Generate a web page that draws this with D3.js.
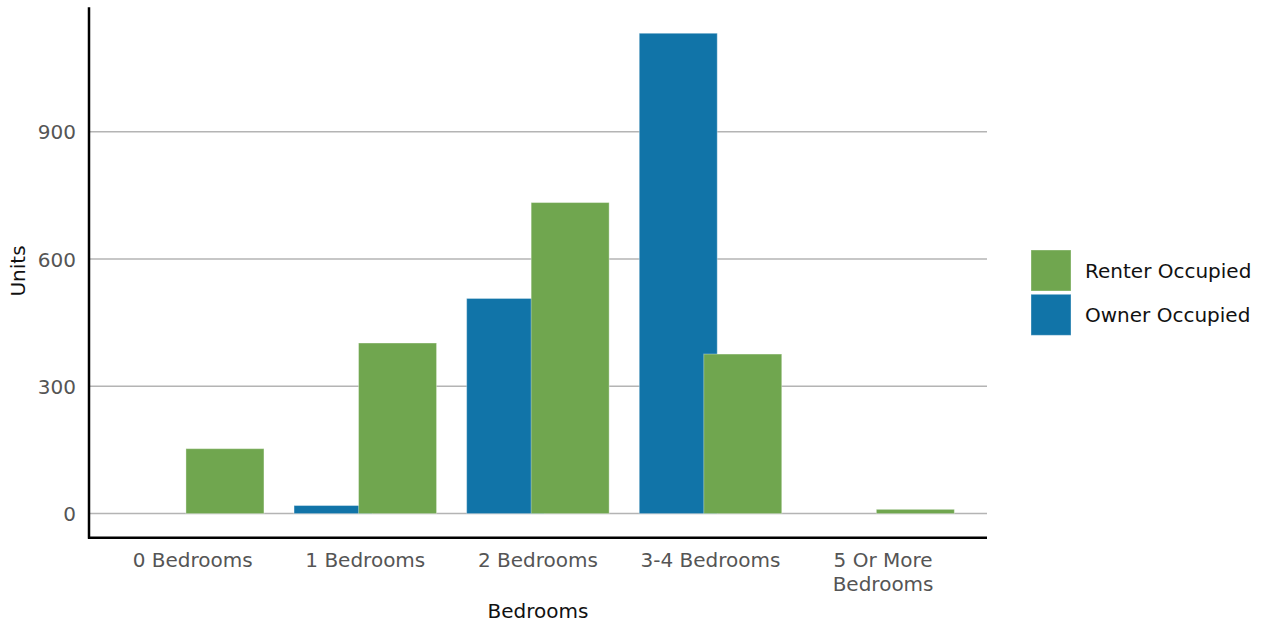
<!DOCTYPE html>
<html>
<head>
<meta charset="utf-8">
<script src="https://cdn.jsdelivr.net/npm/d3@7"></script>
<style>
  html, body { margin: 0; padding: 0; background: #fff; }
  svg { display: block; font-family: "DejaVu Sans", sans-serif; }
</style>
</head>
<body>
<svg id="chart" width="1270" height="624"></svg>
<script>
const categories = ["0 Bedrooms", "1 Bedrooms", "2 Bedrooms", "3-4 Bedrooms", "5 Or More Bedrooms"];
const categoryLines = [["0 Bedrooms"], ["1 Bedrooms"], ["2 Bedrooms"], ["3-4 Bedrooms"], ["5 Or More", "Bedrooms"]];
const seriesNames = ["Owner Occupied", "Renter Occupied"];
const ownerValues = [0, 19, 507, 1132, 0];
const renterValues = [153, 402, 733, 376, 10];
const yTicks = [0, 300, 600, 900];
const legendOrder = ["Renter Occupied", "Owner Occupied"];
const colors = { "Owner Occupied": "#1174a8", "Renter Occupied": "#70a64f" };

const svg = d3.select("#chart");

const x = d3.scaleBand().domain(categories).range([106.4, 969.4]).paddingInner(0).paddingOuter(0);
const y = d3.scaleLinear().domain([0, 900]).range([513.6, 131.7]);

const plotLeft = 89, plotRight = 987, axisBottom = 537.7, axisTop = 7.3;
const fs = 20;

// gridlines
svg.append("g")
  .selectAll("line")
  .data(yTicks)
  .join("line")
  .attr("x1", plotLeft).attr("x2", plotRight)
  .attr("y1", d => y(d)).attr("y2", d => y(d))
  .attr("stroke", "#b4b4b4").attr("stroke-width", 1.5);

// bars
const barW = 78, offset = 64.5;
const sub = d3.scaleOrdinal().domain(seriesNames).range([-71.25, -71.25 + offset]);
const series = [
  { name: "Owner Occupied", values: ownerValues },
  { name: "Renter Occupied", values: renterValues }
];
series.forEach(s => {
  svg.append("g")
    .selectAll("rect")
    .data(categories.map((c, i) => ({ c, v: s.values[i] })).filter(d => d.v > 0))
    .join("rect")
    .attr("x", d => x(d.c) + x.bandwidth() / 2 + sub(s.name))
    .attr("width", barW)
    .attr("y", d => y(d.v))
    .attr("height", d => y(0) - y(d.v))
    .attr("fill", colors[s.name])
    .attr("stroke", "rgba(255,255,255,0.35)")
    .attr("stroke-width", 1);
});

// axes lines
svg.append("line").attr("x1", plotLeft).attr("x2", plotLeft).attr("y1", axisTop).attr("y2", axisBottom + 1)
  .attr("stroke", "#000").attr("stroke-width", 2.5);
svg.append("line").attr("x1", plotLeft - 1).attr("x2", plotRight).attr("y1", axisBottom).attr("y2", axisBottom)
  .attr("stroke", "#000").attr("stroke-width", 2.5);

// y tick labels
svg.append("g")
  .selectAll("text")
  .data(yTicks)
  .join("text")
  .attr("x", 76).attr("y", d => y(d) + 7.5)
  .attr("text-anchor", "end")
  .attr("font-size", fs)
  .attr("fill", "#555")
  .text(d => d3.format("d")(d));

// x tick labels (wrapped as separate lines)
const xLabelData = [];
categories.forEach((c, i) => {
  categoryLines[i].forEach((ln, j) => xLabelData.push({ c, ln, j }));
});
svg.append("g")
  .selectAll("text")
  .data(xLabelData)
  .join("text")
  .attr("x", d => x(d.c) + x.bandwidth() / 2)
  .attr("y", d => 566.5 + d.j * 24.5)
  .attr("text-anchor", "middle")
  .attr("font-size", fs)
  .attr("fill", "#555")
  .text(d => d.ln);

// axis titles
svg.append("text").attr("x", 538).attr("y", 618).attr("text-anchor", "middle")
  .attr("font-size", fs).attr("fill", "#111").text("Bedrooms");
svg.append("text").attr("transform", "translate(25,271) rotate(-90)").attr("text-anchor", "middle")
  .attr("font-size", fs).attr("fill", "#111").text("Units");

// legend
const lg = svg.append("g");
legendOrder.forEach((name, i) => {
  const yy = 250 + i * 44.3;
  lg.append("rect").attr("x", 1031).attr("y", yy).attr("width", 40).attr("height", 41)
    .attr("fill", colors[name]).attr("stroke", "rgba(255,255,255,0.35)");
  lg.append("text").attr("x", 1085).attr("y", yy + 28).attr("font-size", fs).attr("fill", "#111").text(name);
});
</script>
</body>
</html>
